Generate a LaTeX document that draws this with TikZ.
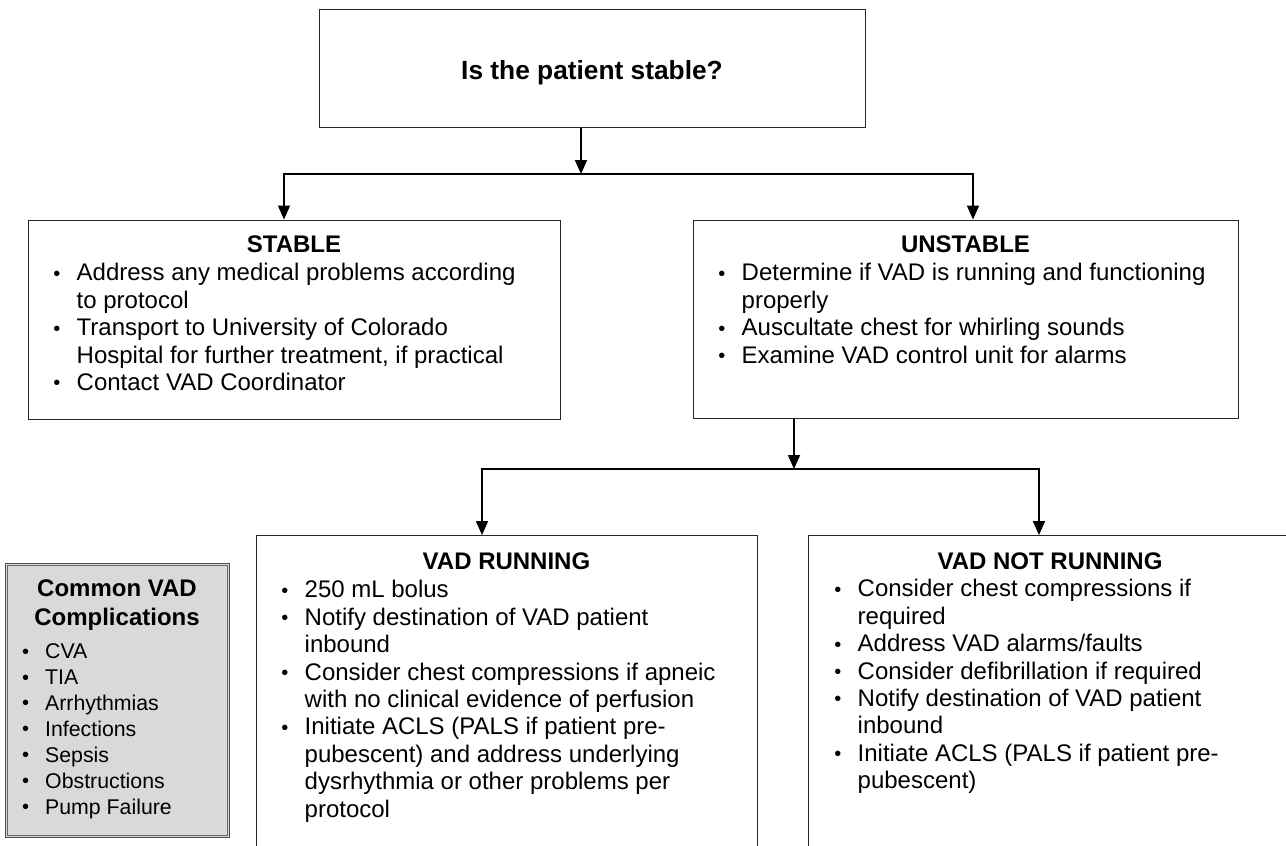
\documentclass[tikz,border=0pt]{standalone}
\usepackage{fontspec}
\setmainfont{Liberation Sans}
\usetikzlibrary{arrows.meta}

% bullet column and continuation indent for the hand-broken lists
\newcommand{\dotmark}{\raisebox{0.6pt}{\fontsize{20}{20}\selectfont •}}
\newcommand{\bul}{\makebox[24pt][l]{\hspace*{0.7pt}\dotmark}}
\newcommand{\cont}{\hspace*{24pt}}
\newcommand{\sbul}{\makebox[23.7pt][l]{\hspace*{0.7pt}\dotmark}}

\tikzset{
  box/.style={draw=black!85, line width=1.3pt, anchor=north west, inner sep=0pt},
  heading/.style={inner sep=0pt, font=\fontsize{24}{28}\selectfont\bfseries},
  body/.style={anchor=north west, inner sep=0pt, align=left, font=\fontsize{24}{27.45}\selectfont},
  smallbody/.style={anchor=north west, inner sep=0pt, align=left, font=\fontsize{21.3}{25.95}\selectfont},
  arr/.style={line width=1.8pt, line join=miter, -{Triangle[width=12pt,length=14pt]}},
}

\begin{document}
\begin{tikzpicture}[x=1pt,y=-1pt]
\useasboundingbox (0,0) rectangle (1286,846);
\clip (0,0) rectangle (1286,846);
\fill[white] (0,0) rectangle (1286,846);

% question box
\node[box, minimum width=546pt, minimum height=118pt] (top) at (319,9) {};
\node[anchor=base, inner sep=0pt, font=\fontsize{26.3}{30}\selectfont\bfseries] (question) at (592,79) {Is the patient stable?};

% first level boxes
\node[box, minimum width=532pt, minimum height=199pt] (stable) at (28,219.5) {};
\node[heading] (stableT) at (294,244.5) {STABLE};
\node[body] (stableB) at (52.5,261.3) {\strut\bul Address any medical problems according\\
\cont to protocol\\
\bul Transport to University of Colorado\\
\cont Hospital for further treatment, if practical\\
\bul Contact VAD Coordinator};

\node[box, minimum width=545pt, minimum height=198.5pt] (unstable) at (693,219.5) {};
\node[heading] (unstableT) at (965.5,244.5) {UNSTABLE};
\node[body] (unstableB) at (717.5,261.3) {\strut\bul Determine if VAD is running and functioning\\
\cont properly\\
\bul Auscultate chest for whirling sounds\\
\bul Examine VAD control unit for alarms};

% second level boxes (they run past the lower and right edges)
\node[box, minimum width=501pt, minimum height=330pt] (running) at (256,535) {};
\node[heading] (runningT) at (506.5,561.5) {VAD RUNNING};
\node[body] (runningB) at (280.5,578.3) {\strut\bul 250 mL bolus\\
\bul Notify destination of VAD patient\\
\cont inbound\\
\bul Consider chest compressions if apneic\\
\cont with no clinical evidence of perfusion\\
\bul Initiate ACLS (PALS if patient pre-\\
\cont pubescent) and address underlying\\
\cont dysrhythmia or other problems per\\
\cont protocol};

\node[box, minimum width=484pt, minimum height=330pt] (notrunning) at (808,535) {};
\node[heading] (notrunningT) at (1050,561) {VAD NOT RUNNING};
\node[body] (notrunningB) at (833.5,577.3) {\strut\bul Consider chest compressions if\\
\cont required\\
\bul Address VAD alarms/faults\\
\bul Consider defibrillation if required\\
\bul Notify destination of VAD patient\\
\cont inbound\\
\bul Initiate ACLS (PALS if patient pre-\\
\cont pubescent)};

% complications panel with a double frame
\node[anchor=north west, inner sep=0pt, minimum width=224pt, minimum height=274pt,
      fill=black!15, draw=black!70, line width=1pt] (compl) at (5,563) {};
\draw[black!60, line width=0.9pt] ([shift={(2.6pt,-2.6pt)}]compl.north west) rectangle ([shift={(-2.6pt,2.6pt)}]compl.south east);
\node[heading, anchor=base] (complT1) at (117,596.6) {Common VAD};
\node[heading, anchor=base] (complT2) at (117,625.6) {Complications};
\node[smallbody] (complB) at (21.3,640.3) {\strut\sbul CVA\\
\sbul TIA\\
\sbul Arrhythmias\\
\sbul Infections\\
\sbul Sepsis\\
\sbul Obstructions\\
\sbul Pump Failure};

% connectors
\coordinate (split) at (581,174);
\coordinate (toStable) at (284,174);
\coordinate (toUnstable) at (973,174);
\draw[arr] (top.south -| split) -- (split);
\draw[arr] (split) -- (toStable) -- (toStable |- stable.north);
\draw[arr] (split) -- (toUnstable) -- (toUnstable |- unstable.north);

\coordinate (split2) at (794,469);
\coordinate (toRunning) at (482,469);
\coordinate (toNotRunning) at (1039,469);
\draw[arr] (unstable.south -| split2) -- (split2);
\draw[arr] (split2) -- (toRunning) -- (toRunning |- running.north);
\draw[arr] (split2) -- (toNotRunning) -- (toNotRunning |- notrunning.north);
\end{tikzpicture}
\end{document}
